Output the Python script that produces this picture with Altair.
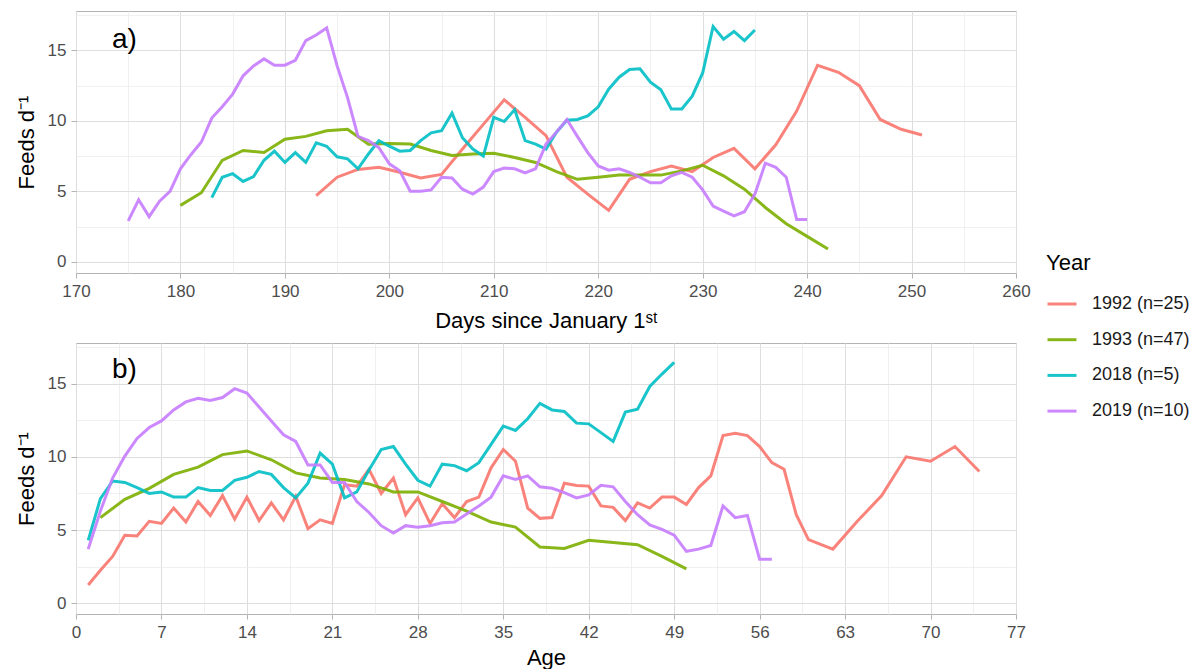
import altair as alt
import pandas as pd

YEARS = ["1992 (n=25)", "1993 (n=47)", "2018 (n=5)", "2019 (n=10)"]
COLORS = ["#F8766D", "#7CAE00", "#00BFC4", "#C77CFF"]

# ---------- panel a) : day of year ----------
day_1992 = list(range(193, 252, 2))
feeds_day_1992 = [4.7, 6.0, 6.55, 6.7, 6.35, 5.95, 6.2, 8.0, 9.75, 11.5, 10.25, 8.95,
                  6.0, 4.8, 3.65, 5.85, 6.4, 6.8, 6.4, 7.4, 8.05, 6.6, 8.3, 10.7,
                  13.95, 13.45, 12.5, 10.1, 9.4, 9.0]

day_1993 = list(range(180, 243, 2))
feeds_day_1993 = [4.0, 4.9, 7.2, 7.9, 7.75, 8.7, 8.9, 9.3, 9.4, 8.35, 8.4, 8.35,
                  7.9, 7.55, 7.65, 7.7, 7.4, 7.05, 6.4, 5.85, 6.0, 6.15, 6.15, 6.15,
                  6.45, 6.85, 6.1, 5.15, 3.85, 2.7, 1.8, 0.9]

day_2018 = list(range(183, 236))
feeds_day_2018 = [4.55, 6.0, 6.25, 5.7, 6.05, 7.2, 7.85, 7.05, 7.75, 7.05, 8.45, 8.2,
                  7.45, 7.3, 6.6, 7.65, 8.6, 8.2, 7.85, 7.9, 8.6, 9.15, 9.3, 10.55,
                  8.8, 8.0, 7.5, 10.25, 9.95, 10.8, 8.6, 8.35, 8.0, 9.2, 10.05, 10.1,
                  10.35, 11.0, 12.25, 13.1, 13.65, 13.7, 12.75, 12.2, 10.85, 10.85,
                  11.75, 13.4, 16.7, 15.8, 16.35, 15.7, 16.45]

day_2019 = list(range(175, 241))
feeds_day_2019 = [2.9, 4.4, 3.2, 4.3, 5.0, 6.6, 7.6, 8.5, 10.2, 11.0, 11.9, 13.2,
                  13.9, 14.4, 13.95, 13.95, 14.3, 15.7, 16.1, 16.6, 13.9, 11.65, 8.9,
                  8.6, 8.1, 6.95, 6.45, 5.0, 5.0, 5.1, 6.0, 5.95, 5.15, 4.8, 5.3, 6.4,
                  6.65, 6.6, 6.3, 6.6, 8.35, 9.2, 10.1, 8.9, 7.75, 6.8, 6.5, 6.6, 6.35,
                  6.0, 5.6, 5.6, 6.1, 6.35, 6.0, 5.1, 3.95, 3.6, 3.25, 3.55, 4.8, 7.0,
                  6.7, 6.0, 3.0, 3.0]

# ---------- panel b) : age ----------
age_1992 = list(range(1, 61)) + [62, 64, 66, 68, 70, 72, 74]
feeds_age_1992 = [1.25, 2.25, 3.2, 4.65, 4.6, 5.6, 5.45, 6.5, 5.55, 6.95, 6.0, 7.35,
                  5.75, 7.25, 5.65, 6.85, 5.7, 7.3, 5.1, 5.7, 5.45, 8.1, 8.0, 9.15,
                  7.5, 8.55, 6.05, 7.2, 5.45, 6.8, 5.85, 6.95, 7.25, 9.25, 10.5, 9.7,
                  6.5, 5.8, 5.85, 8.2, 8.05, 8.0, 6.65, 6.55, 5.65, 6.85, 6.5, 7.25,
                  7.25, 6.75, 7.9, 8.7, 11.45, 11.6, 11.45, 10.7, 9.6, 9.15, 6.05, 4.35,
                  3.7, 5.6, 7.35, 10.0, 9.7, 10.7, 9.0]

age_1993 = list(range(2, 51, 2))
feeds_age_1993 = [5.85, 7.1, 7.85, 8.8, 9.3, 10.15, 10.4, 9.8, 8.9, 8.55, 8.45, 8.15,
                  7.6, 7.6, 6.95, 6.3, 5.55, 5.2, 3.85, 3.75, 4.3, 4.15, 4.0, 3.2, 2.35]

age_2018 = list(range(1, 50))
feeds_age_2018 = [4.3, 7.15, 8.35, 8.25, 7.9, 7.5, 7.6, 7.25, 7.25, 7.9, 7.7, 7.7,
                  8.4, 8.6, 9.0, 8.8, 7.9, 7.2, 8.2, 10.25, 9.5, 7.2, 7.6, 9.1, 10.5,
                  10.7, 9.5, 8.4, 8.0, 9.5, 9.4, 9.05, 9.6, 10.85, 12.1, 11.8, 12.6,
                  13.65, 13.2, 13.1, 12.3, 12.25, 11.65, 11.05, 13.05, 13.25, 14.8,
                  15.65, 16.45]

age_2019 = list(range(1, 58))
feeds_age_2019 = [3.7, 6.3, 8.55, 10.05, 11.25, 12.0, 12.45, 13.2, 13.75, 14.0, 13.85,
                  14.05, 14.65, 14.35, 13.4, 12.45, 11.5, 11.05, 9.45, 9.45, 8.25, 8.25,
                  6.95, 6.2, 5.3, 4.8, 5.3, 5.2, 5.3, 5.5, 5.55, 6.1, 6.65, 7.25, 8.7,
                  8.45, 8.7, 7.95, 7.85, 7.55, 7.2, 7.4, 8.05, 7.95, 6.95, 6.05, 5.35,
                  5.05, 4.65, 3.55, 3.7, 3.95, 6.65, 5.85, 6.0, 3.0, 3.0]


def frame(xs_list, ys_list):
    rows = []
    for year, xs, ys in zip(YEARS, xs_list, ys_list):
        for xv, yv in zip(xs, ys):
            rows.append({"x": xv, "y": yv, "Year": year})
    return pd.DataFrame(rows)


df_top = frame([day_1992, day_1993, day_2018, day_2019],
               [feeds_day_1992, feeds_day_1993, feeds_day_2018, feeds_day_2019])
df_bot = frame([age_1992, age_1993, age_2018, age_2019],
               [feeds_age_1992, feeds_age_1993, feeds_age_2018, feeds_age_2019])

FONT = "Liberation Sans"
MAJOR_GRID = "#dedede"
MINOR_GRID = "#ececec"
TICK = "#b3b3b3"

y_values = [0, 2.5, 5, 7.5, 10, 12.5, 15, 17.5]


def cond(test, a, b):
    return {"condition": {"test": test, "value": a}, "value": b}


def x_axis(title, values, test, title_pad):
    return alt.Axis(
        title=title, values=values, grid=True, domain=False,
        gridColor=cond(test, MAJOR_GRID, MINOR_GRID),
        gridWidth=cond(test, 1.1, 0.8),
        tickColor=TICK, tickSize=5, tickWidth=1,
        tickOpacity=cond(test, 1, 0),
        labelExpr=f"({test}) ? datum.label : ''",
        labelFlush=False, labelOverlap=False, labelPadding=5,
        labelFont=FONT, labelFontSize=17, labelColor="#4d4d4d",
        titleFont=FONT, titleFontSize=22, titleFontWeight="normal", titleColor="#000000",
        titlePadding=title_pad,
    )


ytest = "datum.value % 5 === 0"
y_axis = alt.Axis(
    title="Feeds d⁻¹", values=y_values, grid=True, domain=False,
    gridColor=cond(ytest, MAJOR_GRID, MINOR_GRID),
    gridWidth=cond(ytest, 1.1, 0.8),
    tickColor=TICK, tickSize=5, tickWidth=1,
    tickOpacity=cond(ytest, 1, 0),
    labelExpr=f"({ytest}) ? datum.label : ''",
    labelFontSize=cond(ytest, 17, 0),
    labelOverlap=False, labelPadding=5, labelFlush=False,
    labelFont=FONT, labelColor="#4d4d4d",
    titleFont=FONT, titleFontSize=22, titleFontWeight="normal", titleColor="#000000",
    titlePadding=9,
)

legend = alt.Legend(
    title="Year", orient="none", legendX=970, legendY=242,
    titleFont=FONT, titleFontSize=22, titleFontWeight="normal", titleColor="#000000",
    titlePadding=13,
    labelFont=FONT, labelFontSize=18, labelColor="#1a1a1a", labelOffset=14,
    symbolType="stroke", symbolStrokeWidth=3, symbolSize=840, rowPadding=10.7,
)

color = alt.Color("Year:N", scale=alt.Scale(domain=YEARS, range=COLORS), legend=legend)


def panel(df, xtitle, xdomain, xvalues, xtest, label, h, ydomain, title_pad, label_y):
    lines = alt.Chart(df).mark_line(strokeWidth=3, opacity=0.9).encode(
        x=alt.X("x:Q", scale=alt.Scale(domain=xdomain, nice=False, zero=False),
                axis=x_axis(xtitle, xvalues, xtest, title_pad)),
        y=alt.Y("y:Q", scale=alt.Scale(domain=ydomain, nice=False, zero=False), axis=y_axis),
        color=color,
    )
    txt = alt.Chart(pd.DataFrame({"t": [label]})).mark_text(
        font=FONT, fontSize=28, color="#000000", align="left", baseline="middle"
    ).encode(x=alt.value(36), y=alt.value(label_y), text="t:N")
    return alt.layer(lines, txt).properties(width=940, height=h)


top = panel(df_top, "Days since January 1ˢᵗ", [170, 260], list(range(170, 261, 5)),
            "datum.value % 10 === 0", "a)", 262, [-0.8, 17.8], 11, 29)
bot = panel(df_bot, "Age", [0, 77], [i * 3.5 for i in range(23)],
            "datum.value % 7 === 0", "b)", 271, [-0.73, 17.77], 7, 27)

chart = alt.vconcat(top, bot, spacing=70, bounds="flush").properties(
    padding={"left": 6, "top": 2, "right": 0, "bottom": 0}
).configure(font=FONT).configure_view(stroke="#b3b3b3", strokeWidth=1)

chart.save("out.html", embed_options={"renderer": "svg", "actions": False})
